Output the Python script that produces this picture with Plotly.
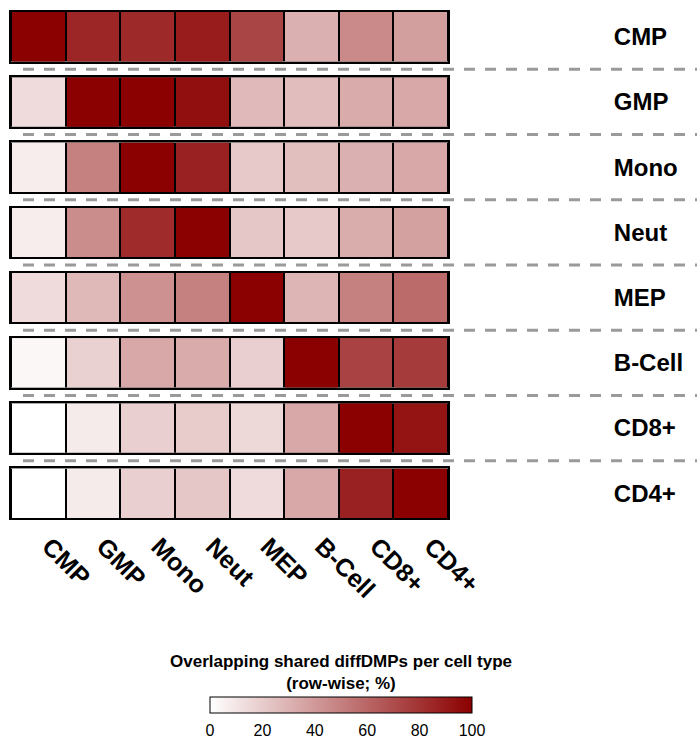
import plotly.graph_objects as go
from plotly.subplots import make_subplots

# Cell types (columns and rows share the same order)
cell_types = ["CMP", "GMP", "Mono", "Neut", "MEP", "B-Cell", "CD8+", "CD4+"]

# Row-wise percentage of overlapping shared diffDMPs
cmp_row = [100, 85, 84, 89, 73, 31, 46, 38]
gmp_row = [14, 100, 100, 94, 27, 26, 33, 34]
mono_row = [7, 50, 100, 87, 21, 25, 31, 34]
neut_row = [7, 45, 83, 100, 22, 21, 32, 37]
mep_row = [14, 28, 43, 50, 100, 29, 50, 58]
bcell_row = [3, 18, 34, 33, 19, 100, 74, 77]
cd8_row = [0, 8, 19, 20, 15, 34, 100, 92]
cd4_row = [0, 8, 19, 22, 14, 34, 87, 100]

rows = [cmp_row, gmp_row, mono_row, neut_row, mep_row, bcell_row, cd8_row, cd4_row]

colorbar_ticks = [0, 20, 40, 60, 80, 100]

W, H = 697, 742
M_L, M_R, M_T, M_B = 11, 249, 12, 224
plot_w = W - M_L - M_R
plot_h = H - M_T - M_B

n = len(rows)
spacing = 0.031
fig = make_subplots(rows=n, cols=1, shared_xaxes=True, vertical_spacing=spacing)

FONT = "Liberation Sans, Arial, sans-serif"

for i, (name, vals) in enumerate(zip(cell_types, rows), start=1):
    fig.add_trace(
        go.Heatmap(
            z=[vals],
            x=cell_types,
            y=[name],
            coloraxis="coloraxis",
            xgap=2,
            hovertemplate="%{y} vs %{x}: %{z}%<extra></extra>",
        ),
        row=i,
        col=1,
    )
    fig.update_yaxes(
        row=i, col=1,
        side="right",
        automargin=False,
        showgrid=False, zeroline=False,
        ticks="",
        ticklabelstandoff=159,
        tickfont=dict(family=FONT, size=24, color="black", weight="bold"),
        showline=True, mirror=True, linecolor="black", linewidth=2,
        fixedrange=True,
    )
    fig.update_xaxes(
        row=i, col=1,
        range=[-0.5, len(cell_types) - 0.5],
        automargin=False,
        showgrid=False, zeroline=False,
        ticks="",
        showticklabels=(i == n),
        tickangle=45,
        ticklabelstandoff=2,
        ticklabelshift=11,
        tickfont=dict(family=FONT, size=25, color="black", weight="bold"),
        showline=True, mirror=True, linecolor="black", linewidth=2,
        fixedrange=True,
    )

# Dashed separators between the row panels
shapes = []
for i in range(1, n):
    upper = fig.layout[f"yaxis{i}"].domain
    lower = fig.layout[f"yaxis{i + 1}"].domain
    ymid = (upper[0] + lower[1]) / 2
    shapes.append(dict(
        type="line", xref="paper", yref="paper",
        x0=(23 - M_L) / plot_w, x1=(W - M_L) / plot_w,
        y0=ymid, y1=ymid,
        line=dict(color="#9a9a9a", width=3, dash="11px,10px"),
    ))

cb_left, cb_right, cb_top = 210, 472, 697
fig.update_layout(
    width=W, height=H,
    margin=dict(l=M_L, r=M_R, t=M_T, b=M_B, autoexpand=False),
    paper_bgcolor="white",
    plot_bgcolor="black",
    shapes=shapes,
    coloraxis=dict(
        colorscale=[[0, "#FFFFFF"], [1, "#8B0000"]],
        cmin=0, cmax=100,
        colorbar=dict(
            orientation="h",
            xref="paper", yref="paper",
            x=(cb_left - M_L) / plot_w, xanchor="left",
            y=1 - (cb_top - M_T) / plot_h, yanchor="top",
            len=cb_right - cb_left, lenmode="pixels",
            thickness=16,
            outlinecolor="black", outlinewidth=1,
            tickvals=colorbar_ticks,
            ticks="outside", ticklen=4, tickcolor="rgba(0,0,0,0)",
            tickfont=dict(family=FONT, size=16, color="black"),
            xpad=0, ypad=0,
        ),
    ),
    annotations=[dict(
        text="Overlapping shared diffDMPs per cell type<br>(row-wise; %)",
        xref="paper", yref="paper",
        x=((cb_left + cb_right) / 2 - M_L) / plot_w,
        y=1 - (650 - M_T) / plot_h,
        xanchor="center", yanchor="top",
        showarrow=False,
        font=dict(family=FONT, size=17, color="black", weight="bold"),
    )],
)

fig.write_html("out.html")
